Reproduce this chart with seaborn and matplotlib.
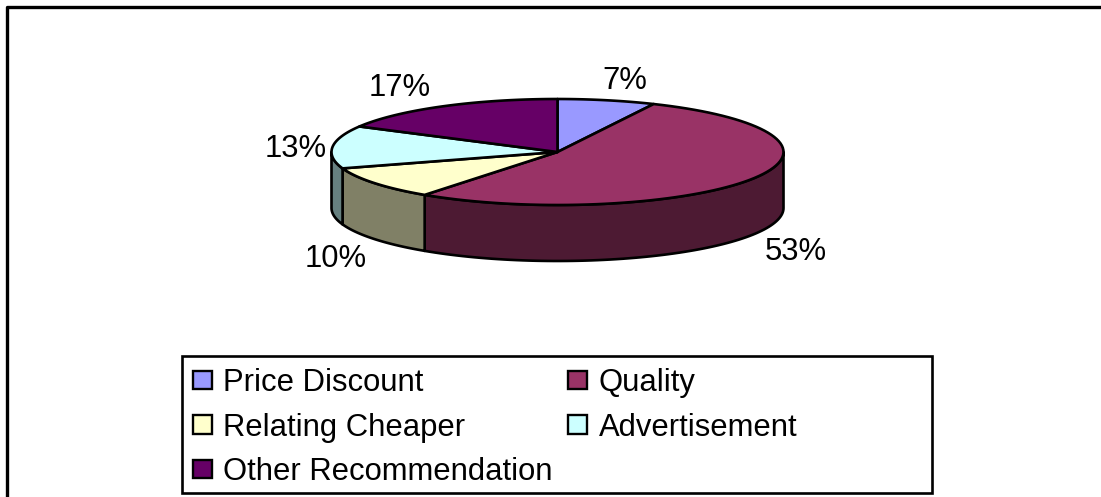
import numpy as np
import matplotlib
matplotlib.use("Agg")
import matplotlib.pyplot as plt
from matplotlib.patches import Patch, Rectangle
import seaborn as sns

categories = ["Price Discount", "Quality", "Relating Cheaper", "Advertisement", "Other Recommendation"]
values = [7, 53, 10, 13, 17]
labels = ["7%", "53%", "10%", "13%", "17%"]
top_colors = ["#9999FF", "#993366", "#FFFFCC", "#CCFFFF", "#660066"]
side_colors = ["#4C4C80", "#4D1A33", "#808066", "#668080", "#330033"]

sns.set_theme(style="white")
plt.rcParams["font.family"] = ["Liberation Sans", "DejaVu Sans"]
palette = sns.color_palette(top_colors)

W, H = 1101, 497
fig = plt.figure(figsize=(W / 100, H / 100), dpi=100)
ax = fig.add_axes([0, 0, 1, 1])
ax.set_xlim(0, W)
ax.set_ylim(H, 0)
ax.axis("off")

cx, cy, rx, ry, depth = 557.5, 152, 226, 53, 56
lw = 1.9
fs = 22.3


def rim(a0, a1, n=80):
    t = np.radians(np.linspace(a0, a1, n))
    return cx + rx * np.sin(t), cy - ry * np.cos(t)


# outer frame: only top and left edges are visible in the crop
ax.plot([7, 7, W], [H, 7, 7], color="black", lw=2.4, solid_capstyle="butt", zorder=1)

edges = 360 * np.cumsum([0] + values) / sum(values)

# side walls: only the front half of the rim
for i in range(len(values)):
    a0, a1 = max(edges[i], 90), min(edges[i + 1], 270)
    if a1 <= a0:
        continue
    x, y = rim(a0, a1)
    ax.fill(np.r_[x, x[::-1]], np.r_[y, y[::-1] + depth], facecolor=side_colors[i],
            edgecolor="black", lw=lw, joinstyle="round", zorder=2)

# top faces
for i in range(len(values)):
    x, y = rim(edges[i], edges[i + 1])
    ax.fill(np.r_[cx, x], np.r_[cy, y], facecolor=palette[i], edgecolor="black",
            lw=lw, joinstyle="round", zorder=3)

# data labels
label_pos = [(625, 81), (796, 252), (336, 259), (296, 149), (400, 88)]
for text, (lx, ly) in zip(labels, label_pos):
    ax.text(lx, ly, text, fontsize=fs, color="black", ha="center", va="center", zorder=4)

# legend
ax.add_patch(Rectangle((182, 355.5), 750, 137.5, facecolor="white", edgecolor="black", lw=1.9, zorder=4))
handles = [Patch(facecolor=c, edgecolor="black", lw=1.7, label=n) for c, n in zip(palette, categories)]
order = [0, 2, 4, 1, 3]
leg = ax.legend(handles=[handles[i] for i in order], ncols=2, loc="upper left",
                bbox_to_anchor=(193 / W, 1 - 368 / H), bbox_transform=fig.transFigure,
                fontsize=fs, frameon=False, labelcolor="black", borderaxespad=0, borderpad=0,
                handlelength=0.6, handleheight=0.55, handletextpad=0.38,
                columnspacing=0.5, labelspacing=0.47)
leg.set_zorder(5)

fig.savefig("out.png", dpi=100, facecolor="white")
